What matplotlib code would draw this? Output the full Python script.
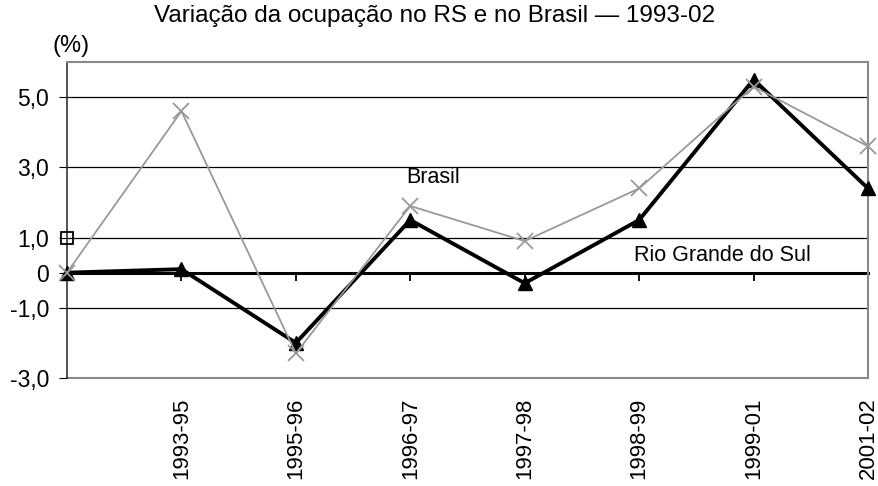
import matplotlib.pyplot as plt

plt.rcParams["font.family"] = ["Liberation Sans", "DejaVu Sans"]

# data
periods = ["", "1993-95", "1995-96", "1996-97", "1997-98", "1998-99", "1999-01", "2001-02"]
rs = [0.0, 0.1, -2.0, 1.5, -0.3, 1.5, 5.5, 2.4]
brasil = [0.0, 4.6, -2.3, 1.9, 0.9, 2.4, 5.3, 3.6]
yticks = [-3, -1, 0, 1, 3, 5]
ytick_labels = ["-3,0", "-1,0", "0", "1,0", "3,0", "5,0"]

fig = plt.figure(figsize=(8.79, 4.86), dpi=100)
ax = fig.add_axes([0.0762, 0.2222, 0.9113, 0.6502])

x = list(range(len(periods)))
ax.plot(x, rs, color="black", lw=2.8, marker="^", ms=10, zorder=3, clip_on=False)
ax.plot(x, brasil, color="#999999", lw=1.3, marker="x", ms=11, mew=1.3, zorder=4, clip_on=False)
# stray legend key left in the original
ax.plot([0], [1], marker="s", ms=8, mfc="none", mec="black", mew=1.3, ls="none",
        zorder=5, clip_on=False)

ax.set_xlim(0, 7)
ax.set_ylim(-3, 6)

ax.set_yticks(yticks)
ax.set_yticklabels(ytick_labels, fontsize=16.5)
ax.tick_params(axis="y", direction="out", length=6, color="black", pad=7)
for yv in [-1, 1, 3, 5]:
    ax.axhline(yv, color="black", lw=0.9, zorder=1)

# the zero line carries the category ticks
ax.spines["bottom"].set_position(("data", 0))
ax.spines["bottom"].set_linewidth(2.2)
ax.spines["bottom"].set_zorder(2)
ax.set_xticks(x[1:])
ax.tick_params(axis="x", direction="out", length=6, width=1.3, labelbottom=False)

ax.spines["left"].set_color("#333333")
ax.spines["left"].set_linewidth(1.2)
for s in ["top", "right"]:
    ax.spines[s].set_color("#888888")
    ax.spines[s].set_linewidth(1.5)

sec = ax.secondary_xaxis(0.0)
sec.set_xticks(x[1:])
sec.set_xticklabels(periods[1:], rotation=90, fontsize=16)
sec.tick_params(length=0, pad=14)
sec.spines["bottom"].set_color("#888888")
sec.spines["bottom"].set_linewidth(1.5)

ax.text(3.2, 2.7, "Brasil", fontsize=15.5, ha="center", va="center")
ax.text(5.73, 0.5, "Rio Grande do Sul", fontsize=15.5, ha="center", va="center")

fig.text(0.494, 1 - 16 / 486, "Variação da ocupação no RS e no Brasil — 1993-02",
         fontsize=17.5, ha="center", va="center")
fig.text(71.5 / 879, 1 - 46 / 486, "(%)", fontsize=17, ha="center", va="center")

fig.savefig("out.png", dpi=100)
